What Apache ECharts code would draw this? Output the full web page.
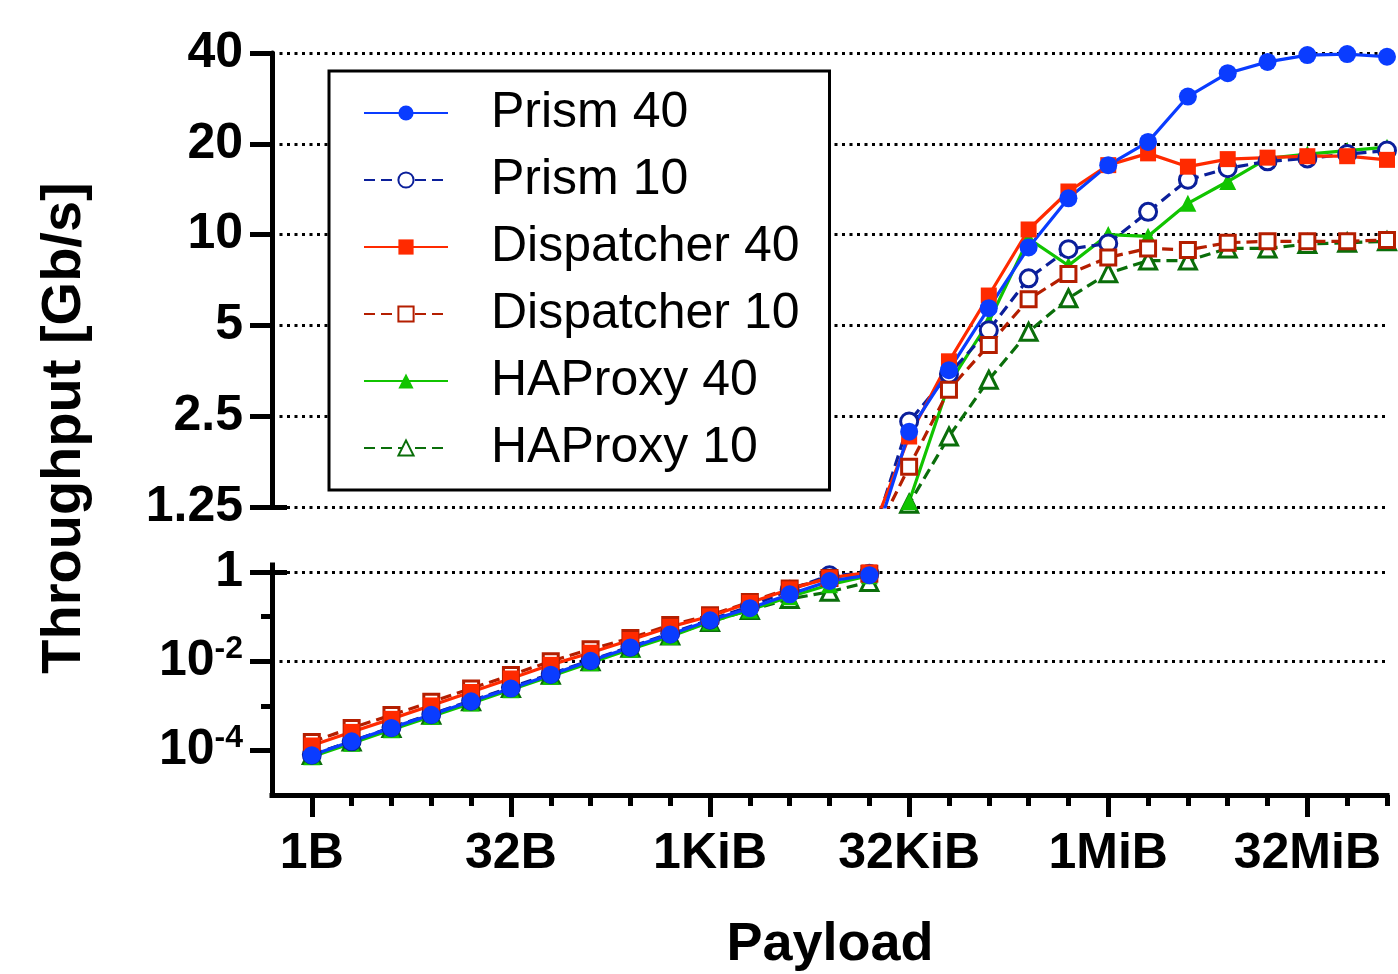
<!DOCTYPE html>
<html>
<head>
<meta charset="utf-8">
<title>Throughput vs Payload</title>
<script src="https://cdn.jsdelivr.net/npm/echarts@6/dist/echarts.min.js"></script>
<style>
  html, body { margin: 0; padding: 0; background: #fff; }
  #main { width: 1398px; height: 974px; }
</style>
</head>
<body>
<div id="main"></div>
<script>
// payload = 2^exp bytes, 1B .. 128MiB
var payloadExp = [0, 1, 2, 3, 4, 5, 6, 7, 8, 9, 10, 11, 12, 13, 14, 15, 16, 17, 18, 19, 20, 21, 22, 23, 24, 25, 26, 27]
var xTickExp = [0, 5, 10, 15, 20, 25]
var xTickLabels = ["1B", "32B", "1KiB", "32KiB", "1MiB", "32MiB"]
var xMinorExp = [1, 2, 3, 4, 6, 7, 8, 9, 11, 12, 13, 14, 16, 17, 18, 19, 21, 22, 23, 24, 26, 27]
var yTopTicks = [1.25, 2.5, 5, 10, 20, 40]
var yLowTicks = [1e-4, 1e-2, 1]
var yLowMinor = [1e-3, 1e-1]
var breakIndex = 14 // last point of the lower panel, first of the upper one

// throughput in Gb/s
var prism40 = [7.8e-5, 1.6e-4, 3.2e-4, 6.3e-4, 1.26e-3, 2.45e-3, 5.0e-3, 1.02e-2, 2.04e-2, 4.0e-2, 8.3e-2, 0.155, 0.316, 0.63, 0.85,
  2.22, 3.55, 5.7, 9.07, 13.2, 17.0, 20.3, 28.7, 34.3, 37.4, 39.4, 39.7, 38.9]
var prism10 = [8.0e-5, 1.6e-4, 3.3e-4, 6.5e-4, 1.3e-3, 2.6e-3, 5.2e-3, 1.05e-2, 2.1e-2, 4.2e-2, 8.5e-2, 0.17, 0.40, 0.85, 0.92,
  2.40, 3.45, 4.82, 7.16, 8.95, 9.35, 11.9, 15.2, 16.6, 17.5, 17.9, 18.5, 19.0]
var dispatcher40 = [1.29e-4, 2.6e-4, 5.1e-4, 1.02e-3, 2.04e-3, 4.1e-3, 8.3e-3, 1.55e-2, 3.0e-2, 5.9e-2, 0.102, 0.204, 0.41, 0.74, 0.98,
  2.14, 3.8, 6.28, 10.4, 13.9, 17.0, 18.6, 16.8, 17.8, 18.0, 18.2, 18.2, 17.7]
var dispatcher10 = [1.55e-4, 3.2e-4, 6.2e-4, 1.23e-3, 2.45e-3, 4.9e-3, 1.0e-2, 1.86e-2, 3.3e-2, 6.5e-2, 0.107, 0.214, 0.43, 0.74, 0.92,
  1.70, 3.06, 4.3, 6.1, 7.4, 8.4, 9.0, 8.9, 9.4, 9.5, 9.5, 9.5, 9.6]
var haproxy40 = [7.2e-5, 1.45e-4, 2.9e-4, 5.8e-4, 1.15e-3, 2.3e-3, 4.6e-3, 9.3e-3, 1.86e-2, 3.6e-2, 7.6e-2, 0.141, 0.28, 0.52, 0.83,
  1.30, 3.2, 5.14, 9.7, 7.9, 10.0, 9.87, 12.7, 15.0, 17.9, 18.5, 19.0, 19.5]
var haproxy10 = [7.9e-5, 1.58e-4, 3.2e-4, 6.3e-4, 1.26e-3, 2.5e-3, 5.0e-3, 1.0e-2, 2.0e-2, 3.8e-2, 7.6e-2, 0.141, 0.25, 0.36, 0.60,
  1.28, 2.14, 3.3, 4.76, 6.15, 7.45, 8.2, 8.2, 9.0, 9.0, 9.3, 9.4, 9.5]

var FONT = '"Liberation Sans", Arial, Helvetica, sans-serif'

// drawing order: last one on top; "hollow" = white fill with coloured border
var lines = [
  { name: "HAProxy 10", values: haproxy10, color: "#0a6e0a", symbol: "triangle", size: 17, hollow: true },
  { name: "HAProxy 40", values: haproxy40, color: "#11c400", symbol: "triangle", size: 17, hollow: false },
  { name: "Prism 10", values: prism10, color: "#0b1f9a", symbol: "circle", size: 17, hollow: true },
  { name: "Dispatcher 10", values: dispatcher10, color: "#b41e00", symbol: "rect", size: 15, hollow: true },
  { name: "Dispatcher 40", values: dispatcher40, color: "#ff2a00", symbol: "rect", size: 16, hollow: false },
  { name: "Prism 40", values: prism40, color: "#0a3cff", symbol: "circle", size: 18, hollow: false }
]

function points(values, from, to) {
  var out = []
  for (var i = from; i <= to; i++) {
    out.push([payloadExp[i], values[i]])
  }
  return out
}

function gridLines(xIdx, yIdx, ticks) {
  return {
    type: "line",
    xAxisIndex: xIdx,
    yAxisIndex: yIdx,
    data: [],
    z: 1,
    markLine: {
      z: 1,
      silent: true,
      animation: false,
      symbol: ["none", "none"],
      label: { show: false },
      lineStyle: { color: "#000", width: 3, type: [3, 4.5] },
      data: ticks.map(function (v) { return { yAxis: v } })
    }
  }
}

var series = [gridLines(0, 0, yTopTicks), gridLines(1, 2, yLowTicks)]
lines.forEach(function (s) {
  var common = {
    name: s.name,
    type: "line",
    symbol: s.symbol,
    symbolSize: s.size,
    z: 3,
    clip: true,
    itemStyle: s.hollow
      ? { color: "#fff", borderColor: s.color, borderWidth: 3 }
      : { color: s.color, borderColor: s.color, borderWidth: 0 },
    lineStyle: { color: s.color, width: 3.2, type: s.hollow ? [11, 6] : "solid" }
  }
  // lower panel
  series.push(Object.assign({}, common, {
    xAxisIndex: 1, yAxisIndex: 2,
    data: points(s.values, 0, breakIndex)
  }))
  // upper panel
  series.push(Object.assign({}, common, {
    xAxisIndex: 0, yAxisIndex: 0,
    data: points(s.values, breakIndex, payloadExp.length - 1)
  }))
})

function tickStyle() {
  return { color: "#000", width: 5 }
}

var option = {
  animation: false,
  backgroundColor: "#fff",
  grid: [
    { left: 272, right: 11, top: 53, height: 454 },
    { left: 272, right: 11, top: 565, height: 230 }
  ],
  xAxis: [
    { type: "value", gridIndex: 0, min: -1, max: 27, show: false },
    {
      type: "value", gridIndex: 1, min: -1, max: 27, position: "bottom",
      axisLine: { show: true, onZero: false, lineStyle: { color: "#000", width: 5, cap: "square" } },
      axisTick: { show: true, customValues: xTickExp, length: 22, lineStyle: tickStyle() },
      axisLabel: {
        customValues: xTickExp, margin: 34, color: "#000",
        fontSize: 50, fontWeight: "bold", fontFamily: FONT,
        formatter: function (v) { return xTickLabels[xTickExp.indexOf(Math.round(v))] }
      },
      splitLine: { show: false }
    },
    {
      type: "value", gridIndex: 1, min: -1, max: 27, position: "bottom",
      axisLine: { show: false, onZero: false },
      axisTick: { show: true, customValues: xMinorExp, length: 11, lineStyle: tickStyle() },
      axisLabel: { show: false },
      splitLine: { show: false }
    }
  ],
  yAxis: [
    // upper panel, log2
    {
      type: "log", logBase: 2, gridIndex: 0, min: 1.249, max: 40.03, position: "left",
      axisLine: { show: true, onZero: false, lineStyle: { color: "#000", width: 5 } },
      axisTick: { show: true, customValues: yTopTicks, length: 22, lineStyle: tickStyle() },
      axisLabel: {
        customValues: yTopTicks, margin: 29, color: "#000",
        fontSize: 50, fontWeight: "bold", fontFamily: FONT,
        formatter: function (v) { return String(+(+v).toPrecision(3)) }
      },
      splitLine: { show: false }
    },
    {
      type: "log", logBase: 2, gridIndex: 0, min: 1.249, max: 40.03, position: "left",
      axisLine: { show: false, onZero: false },
      axisTick: { show: true, inside: true, customValues: [1.25], length: 15, lineStyle: tickStyle() },
      axisLabel: { show: false },
      splitLine: { show: false }
    },
    // lower panel, log10
    {
      type: "log", logBase: 10, gridIndex: 1, min: 1e-5, max: 1.44, position: "left",
      axisLine: { show: true, onZero: false, lineStyle: { color: "#000", width: 5, cap: "square" } },
      axisTick: { show: true, customValues: yLowTicks, length: 22, lineStyle: tickStyle() },
      axisLabel: {
        customValues: yLowTicks, margin: 29, color: "#000",
        formatter: function (v) {
          var e = Math.round(Math.log10(v))
          return e === 0 ? "{b|1}" : "{b|10}{s|" + e + "}"
        },
        rich: {
          b: { fontSize: 50, fontWeight: "bold", fontFamily: FONT, color: "#000", lineHeight: 56 },
          s: { fontSize: 32, fontWeight: "bold", fontFamily: FONT, color: "#000", lineHeight: 28, verticalAlign: "top" }
        }
      },
      splitLine: { show: false }
    },
    {
      type: "log", logBase: 10, gridIndex: 1, min: 1e-5, max: 1.44, position: "left",
      axisLine: { show: false, onZero: false },
      axisTick: { show: true, customValues: yLowMinor, length: 11, lineStyle: tickStyle() },
      axisLabel: { show: false },
      splitLine: { show: false }
    },
    {
      type: "log", logBase: 10, gridIndex: 1, min: 1e-5, max: 1.44, position: "left",
      axisLine: { show: false, onZero: false },
      axisTick: { show: true, inside: true, customValues: [1], length: 15, lineStyle: tickStyle() },
      axisLabel: { show: false },
      splitLine: { show: false }
    }
  ],
  legend: {
    data: ["Prism 40", "Prism 10", "Dispatcher 40", "Dispatcher 10", "HAProxy 40", "HAProxy 10"],
    orient: "vertical",
    left: 329,
    top: 71,
    z: 10,
    backgroundColor: "#fff",
    borderColor: "#000",
    borderWidth: 3,
    borderRadius: 0,
    padding: [17, 30, 17, 34],
    itemWidth: 84,
    itemHeight: 19,
    itemGap: 17,
    textStyle: { fontSize: 50, fontFamily: FONT, color: "#000", lineHeight: 50, padding: [0, 0, 0, 38] }
  },
  graphic: [
    {
      type: "text", x: 65, y: 428, rotation: Math.PI / 2,
      style: { text: "Throughput [Gb/s]", font: "bold 56px " + FONT, fill: "#000", align: "center", verticalAlign: "middle" }
    },
    {
      type: "text", x: 830, y: 945,
      style: { text: "Payload", font: "bold 54px " + FONT, fill: "#000", align: "center", verticalAlign: "middle" }
    }
  ],
  series: series
}

var myChart = echarts.init(document.getElementById("main"))
myChart.setOption(option)
window.addEventListener("resize", function () {
  myChart.resize()
})
</script>
</body>
</html>
